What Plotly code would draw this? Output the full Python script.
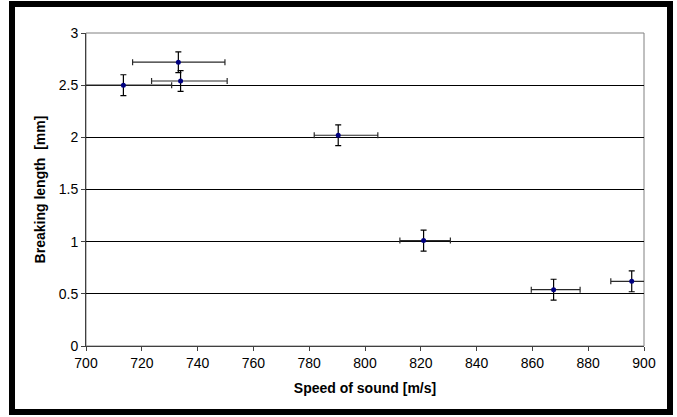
import plotly.graph_objects as go

speed = [713.4, 733.1, 733.9, 790.4, 821.0, 867.6, 895.6]
length = [2.50, 2.72, 2.54, 2.02, 1.01, 0.54, 0.62]
speed_err_plus = [17.3, 16.7, 16.7, 14.2, 9.6, 9.5, 8.0]
speed_err_minus = [17.3, 16.4, 10.4, 8.6, 8.5, 8.0, 7.5]
length_err = [0.10, 0.10, 0.10, 0.10, 0.10, 0.10, 0.10]

x_ticks = [700, 720, 740, 760, 780, 800, 820, 840, 860, 880, 900]
y_ticks = [0, 0.5, 1, 1.5, 2, 2.5, 3]

fig = go.Figure()
fig.add_trace(go.Scatter(
    x=speed, y=length, mode="markers",
    marker=dict(color="#000080", size=5, symbol="circle"),
    error_x=dict(type="data", symmetric=False, array=speed_err_plus,
                 arrayminus=speed_err_minus, color="#2a2a2a", thickness=1.2, width=3),
    error_y=dict(type="data", array=length_err, color="#000000", thickness=1.2, width=3),
    showlegend=False,
))

font = "Liberation Sans, Arial, sans-serif"
fig.update_layout(
    width=677, height=417,
    margin=dict(l=86, r=33, t=33, b=71),
    paper_bgcolor="white", plot_bgcolor="white",
    font=dict(family=font, size=14, color="#000"),
    xaxis=dict(range=[700, 900], tickvals=x_ticks, ticktext=[str(v) for v in x_ticks],
               showgrid=False, zeroline=False, showline=True, linecolor="#404040",
               linewidth=1, ticks="outside", ticklen=4, tickcolor="#404040",
               title=dict(text="<b>Speed of sound [m/s]</b>", font=dict(size=14), standoff=13)),
    yaxis=dict(range=[0, 3], tickvals=y_ticks, ticktext=["0", "0.5", "1", "1.5", "2", "2.5", "3"],
               showgrid=True, gridcolor="#000000", gridwidth=1, zeroline=False,
               showline=True, linecolor="#404040", linewidth=1, ticks="outside",
               ticklen=4, tickcolor="#404040",
               title=dict(text="<b>Breaking length  [mm]</b>", font=dict(size=14), standoff=9)),
    shapes=[
        dict(type="rect", xref="paper", yref="paper", x0=0, x1=1, y0=0, y1=1,
             line=dict(color="#808080", width=1), layer="below"),
        dict(type="rect", xref="paper", yref="paper",
             x0=-0.1326, x1=1.0466, y0=-0.2109, y1=1.0927,
             line=dict(color="#000000", width=6), layer="above"),
    ],
)

fig.write_html("out.html", config={"displayModeBar": False},
               post_script="document.body.style.margin='0';")
